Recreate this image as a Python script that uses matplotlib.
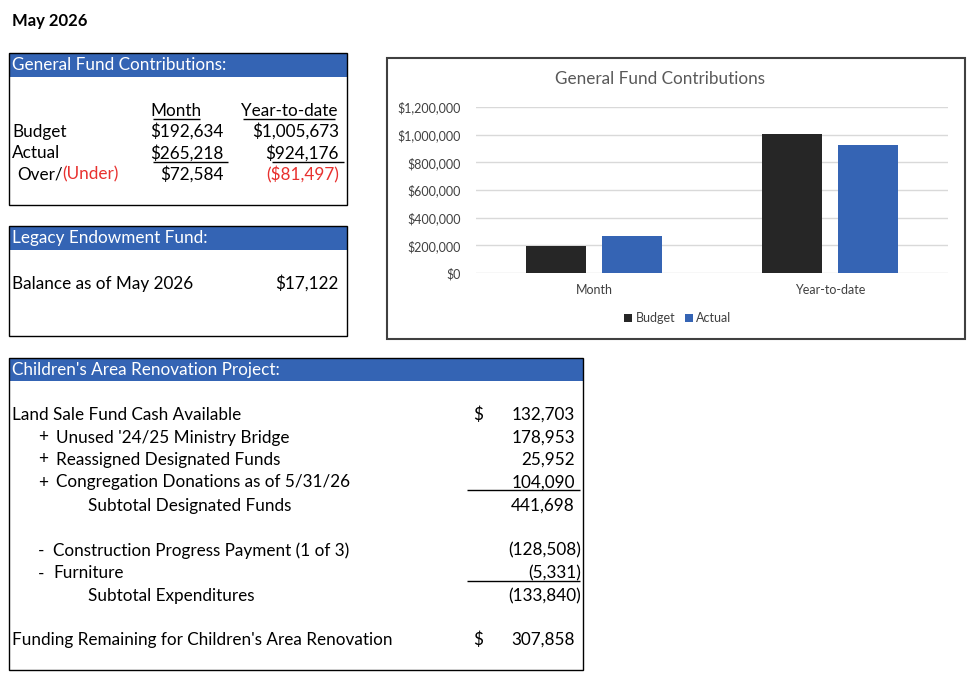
import matplotlib
matplotlib.use("Agg")
import matplotlib.pyplot as plt
from matplotlib.patches import Rectangle

plt.rcParams['font.family'] = ['Lato', 'DejaVu Sans']

# ---------------- data ----------------
report_title = "May 2026"
categories = ["Month", "Year-to-date"]
budget = [192634, 1005673]
actual = [265218, 924176]
over_under = [72584, -81497]

legacy_label = "Balance as of May 2026"
legacy_balance = 17122

chart_title = "General Fund Contributions"
y_ticks = [0, 200000, 400000, 600000, 800000, 1000000, 1200000]

proj_labels = [
    "Land Sale Fund Cash Available",
    "Unused '24/25 Ministry Bridge",
    "Reassigned Designated Funds",
    "Congregation Donations as of 5/31/26",
    "Subtotal Designated Funds",
    "Construction Progress Payment (1 of 3)",
    "Furniture",
    "Subtotal Expenditures",
    "Funding Remaining for Children's Area Renovation",
]
proj_values = [132703, 178953, 25952, 104090, 441698, -128508, -5331, -133840, 307858]
proj_prefix = ["", "+", "+", "+", "", "-", "-", "", ""]
proj_dollar = [True, False, False, False, False, False, False, False, True]

# ---------------- styling ----------------
BLUE = "#3464B4"
BAR_BLACK = "#262626"
BAR_BLUE = "#3564B4"
RED = "#E8312F"
FS = 12.3
DY = 1.5

W, H = 978, 688
fig = plt.figure(figsize=(W / 100, H / 100), dpi=100)
bg = fig.add_axes([0, 0, 1, 1])
bg.set_xlim(0, W)
bg.set_ylim(H, 0)
bg.axis("off")


def txt(x, y, s, ha="left", color="black", size=FS, **kw):
    return bg.text(x, y + DY, s, ha=ha, va="center", color=color, fontsize=size, **kw)


def hline(x0, x1, y, lw=1.0):
    bg.plot([x0, x1], [y, y], color="black", lw=lw, solid_capstyle="butt")


def box(x0, y0, x1, y1, header, hy1):
    bg.add_patch(Rectangle((x0, y0), x1 - x0, hy1 - y0, facecolor=BLUE, edgecolor="none"))
    bg.add_patch(Rectangle((x0, y0), x1 - x0, y1 - y0, facecolor="none", edgecolor="black", lw=1.0))
    txt(x0 + 3, (y0 + hy1) / 2 - 1, header, color="white", size=12.3)


def money(v):
    return f"${v:,.0f}" if v >= 0 else f"(${-v:,.0f})"


def acct(v):
    return f"{v:,.0f}" if v >= 0 else f"({-v:,.0f})"


# title
txt(12, 19.5, report_title, size=12, weight="bold")

# ---- General Fund box ----
box(9, 53, 347, 205, "General Fund Contributions:", 77)
txt(176, 109, categories[0], ha="center")
hline(153, 200, 118.5)
txt(289, 109, categories[1], ha="center")
hline(243, 335, 118.5)
rows_y = [130, 152, 173]
txt(12, rows_y[0], "Budget")
txt(12, rows_y[1], "Actual")
t1 = txt(17, rows_y[2], "Over/")
bg.annotate("(Under)", xycoords=t1, xy=(1, 0.5), va="center", ha="left",
            fontsize=FS, color=RED)
col_right = [224, 339]
for i in range(2):
    txt(col_right[i], rows_y[0], money(budget[i]), ha="right")
    txt(col_right[i], rows_y[1], money(actual[i]), ha="right")
    txt(col_right[i], rows_y[2], money(over_under[i]),
        ha="right", color="black" if over_under[i] >= 0 else RED)
hline(153, 228, 161.5)
hline(272, 344, 161.5)

# ---- Legacy box ----
box(9, 226, 347, 336, "Legacy Endowment Fund:", 250)
txt(12, 282, legacy_label)
txt(339, 282, money(legacy_balance), ha="right")

# ---- Children's project box ----
box(9, 358, 583, 670, "Children's Area Renovation Project:", 381)
proj_y = [413, 436, 458, 481, 504, 549, 572, 595, 638]
for lab, v, pre, dol, y in zip(proj_labels, proj_values, proj_prefix, proj_dollar, proj_y):
    if lab.startswith("Subtotal"):
        txt(88, y, lab)
    elif pre == "+":
        txt(38, y, pre)
        txt(56, y, lab)
    elif pre == "-":
        txt(38, y, pre)
        txt(53, y, lab)
    else:
        txt(12, y, lab)
    if dol:
        txt(478, y, "$", ha="center")
    xr = 575 if v >= 0 else 581
    txt(xr, y, acct(v), ha="right")
hline(467, 580, 490)
hline(467, 580, 581)

# ---- chart frame ----
bg.add_patch(Rectangle((387, 58), 965 - 387, 339 - 58, facecolor="none",
                       edgecolor="#404040", lw=1.5))
txt(660, 78, chart_title, ha="center", color="#595959", size=12.3)

ax = fig.add_axes([476 / W, 1 - 273 / H, (948 - 476) / W, (273 - 107) / H])
x = [0, 1]
bw = 0.254
off = 0.16
ax.bar([xi - off for xi in x], budget, width=bw, color=BAR_BLACK, label="Budget", zorder=3)
ax.bar([xi + off for xi in x], actual, width=bw, color=BAR_BLUE, label="Actual", zorder=3)
ax.set_xlim(-0.5, 1.5)
ax.set_ylim(0, 1200000)
ax.set_yticks(y_ticks)
ax.set_yticklabels([f"${v:,.0f}" for v in y_ticks], fontsize=9, color="#404040")
ax.set_xticks(x)
ax.set_xticklabels(categories, fontsize=9, color="#404040")
ax.tick_params(length=0, pad=8)
ax.tick_params(axis="y", pad=11)
ax.grid(axis="y", color="#D9D9D9", lw=1, zorder=0)
for s in ax.spines.values():
    s.set_visible(False)
ax.patch.set_alpha(0)
leg = ax.legend(loc="center", bbox_to_anchor=(678 / W, 1 - 318 / H),
                bbox_transform=fig.transFigure, ncol=2, frameon=False,
                fontsize=9, handlelength=0.6, handleheight=0.6, handletextpad=0.3,
                columnspacing=0.8)
for t in leg.get_texts():
    t.set_color("#404040")

fig.savefig("out.png", dpi=100)
